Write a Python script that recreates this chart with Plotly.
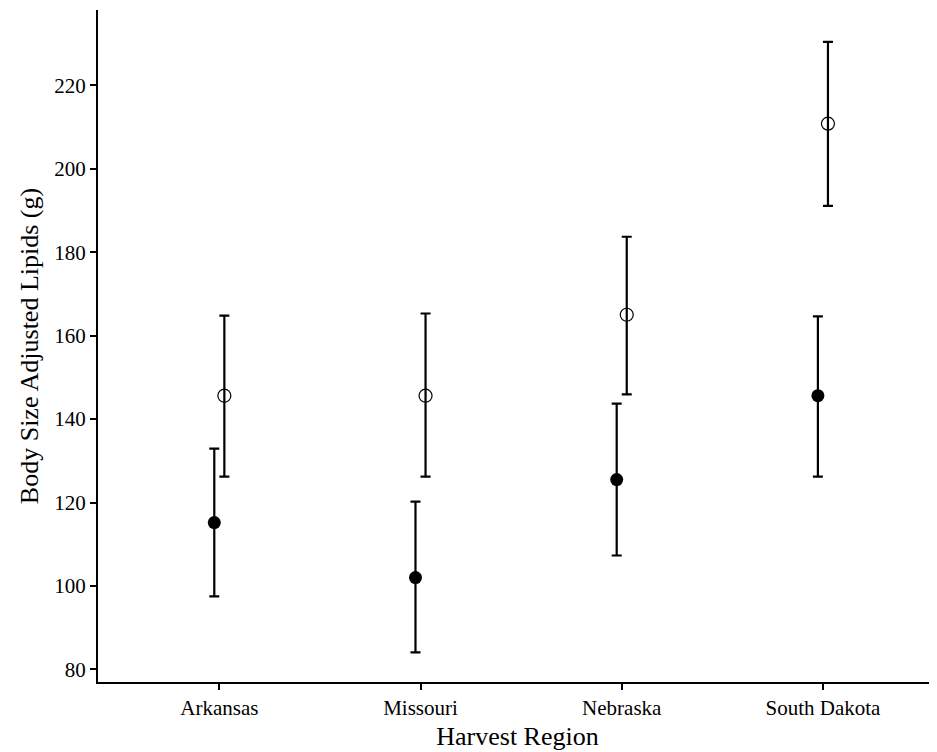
import plotly.graph_objects as go

regions = ["Arkansas", "Missouri", "Nebraska", "South Dakota"]
filled_mean = [115.2, 102.0, 125.5, 145.6]
filled_upper = [132.9, 120.2, 143.7, 164.6]
filled_lower = [97.5, 84.1, 107.3, 126.2]
open_mean = [145.6, 145.6, 165.0, 210.8]
open_upper = [164.8, 165.3, 183.7, 230.4]
open_lower = [126.2, 126.2, 145.9, 191.1]
y_ticks = [80, 100, 120, 140, 160, 180, 200, 220]

dodge = 0.025
idx = list(range(len(regions)))

fig = go.Figure()
fig.add_trace(go.Scatter(
    x=[i - dodge for i in idx], y=filled_mean, mode="markers",
    marker=dict(symbol="circle", size=13, color="black"),
    error_y=dict(type="data", symmetric=False,
                 array=[u - m for u, m in zip(filled_upper, filled_mean)],
                 arrayminus=[m - l for m, l in zip(filled_mean, filled_lower)],
                 color="black", thickness=2.2, width=5),
    showlegend=False))
fig.add_trace(go.Scatter(
    x=[i + dodge for i in idx], y=open_mean, mode="markers",
    marker=dict(symbol="circle-open", size=13, color="black", line=dict(width=1.2)),
    error_y=dict(type="data", symmetric=False,
                 array=[u - m for u, m in zip(open_upper, open_mean)],
                 arrayminus=[m - l for m, l in zip(open_mean, open_lower)],
                 color="black", thickness=2.2, width=5),
    showlegend=False))

fig.update_layout(
    width=929, height=744, autosize=False,
    margin=dict(l=90, r=0, t=2, b=70),
    plot_bgcolor="white", paper_bgcolor="white",
    font=dict(family="Liberation Serif, Times New Roman, serif", color="black"),
    xaxis=dict(range=[-0.603, 3.567], tickmode="array", tickvals=idx, ticktext=regions,
               showgrid=False, zeroline=False, showline=True, linecolor="black", linewidth=2,
               ticks="outside", ticklen=6, tickwidth=1.5, tickcolor="black",
               tickfont=dict(size=21), title=dict(text="Harvest Region", font=dict(size=26), standoff=8)),
    yaxis=dict(range=[76.98, 238.05], tickmode="array", tickvals=y_ticks,
               showgrid=False, zeroline=False, showline=True, linecolor="black", linewidth=2,
               ticks="outside", ticklen=6, tickwidth=1.5, tickcolor="black",
               tickfont=dict(size=21), title=dict(text="Body Size Adjusted Lipids (g)", font=dict(size=26), standoff=8)),
)

fig.write_html("out.html", config={"responsive": False})
